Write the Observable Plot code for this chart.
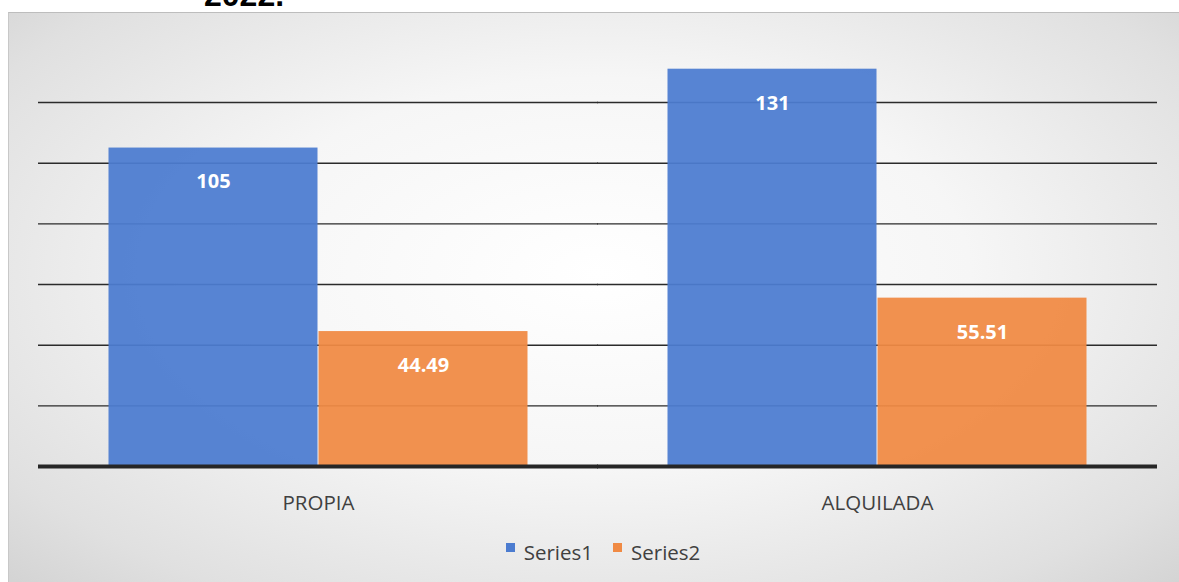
<!DOCTYPE html>
<html>
<head>
<meta charset="utf-8">
<script src="https://cdn.jsdelivr.net/npm/d3@7"></script>
<script src="https://cdn.jsdelivr.net/npm/@observablehq/plot@0.6"></script>
<style>
  html, body { margin: 0; padding: 0; background: #ffffff; overflow: hidden; }
  #page { position: relative; width: 1179px; height: 582px; overflow: hidden; font-family: "Open Sans", "Noto Sans", sans-serif; }
  #title { position: absolute; left: 204px; top: -23px; font: bold 32px "Liberation Sans", Arial, sans-serif; color: #000; }
  #panel { position: absolute; left: 8px; top: 12px; right: -10px; bottom: -10px;
           border-top: 1px solid #bdbdbd; border-left: 1px solid #c8c8c8;
           background: radial-gradient(ellipse 70% 75% at 50% 45%, #ffffff 0%, #f6f6f6 45%, #e0e0e0 85%, #d4d4d4 100%); }
  #chart { position: absolute; left: 0; top: 0; }
  #legend { position: absolute; left: 0; width: 1179px; top: 538px; display: flex; justify-content: center; gap: 20px; font-size: 20.5px; color: #404040; padding-left: 27px; box-sizing: border-box; }
  #legend span.item { display: flex; align-items: center; gap: 9px; }
  #legend span.sw { width: 9px; height: 9px; display: inline-block; margin-top: -9px; }
</style>
</head>
<body>
<div id="page">
  <div id="title">2022.</div>
  <div id="panel"></div>
  <div id="chart"></div>
  <div id="legend"></div>
</div>
<script>
const categories = ["PROPIA", "ALQUILADA"];
const seriesNames = ["Series1", "Series2"];
const series1 = [105, 131];
const series2 = [44.49, 55.51];
const labels1 = ["105", "131"];
const labels2 = ["44.49", "55.51"];
const gridTicks = [20, 40, 60, 80, 100, 120];
const colors = ["#4c7cd0", "#f08a44"];

const data = [];
categories.forEach((c, i) => {
  data.push({category: c, series: seriesNames[0], value: series1[i], label: labels1[i]});
  data.push({category: c, series: seriesNames[1], value: series2[i], label: labels2[i]});
});

const plot = Plot.plot({
  width: 1179,
  height: 520,
  marginLeft: 38,
  marginRight: 21,
  marginTop: 41.4,
  marginBottom: 54,
  style: {background: "transparent", fontFamily: "'Open Sans', 'Noto Sans', sans-serif", fontSize: "20.5px", color: "#404040"},
  fx: {domain: categories, paddingInner: 0.248, paddingOuter: 0.125, axis: "bottom", label: null, tickSize: 0, tickPadding: 29},
  x: {domain: seriesNames, padding: 0, axis: null},
  y: {domain: [0, 140], axis: null},
  color: {domain: seriesNames, range: colors},
  marks: [
    Plot.ruleY(gridTicks, {stroke: "#2b2b2b", strokeWidth: 1.4, insetLeft: -70, insetRight: -70}),
    Plot.barY(data, {fx: "category", x: "series", y: "value", fill: "series", fillOpacity: 0.94, insetLeft: 0.5, insetRight: 0.5}),
    Plot.text(data, {fx: "category", x: "series", y: "value", text: "label", dy: 34, fill: "white", fontWeight: "bold", fontSize: 20}),
    Plot.ruleY([0], {stroke: "#262626", strokeWidth: 4, insetLeft: -70, insetRight: -70})
  ]
});
document.getElementById("chart").appendChild(plot);

const legend = document.getElementById("legend");
seriesNames.forEach((s, i) => {
  const item = document.createElement("span");
  item.className = "item";
  const sw = document.createElement("span");
  sw.className = "sw";
  sw.style.background = colors[i];
  const t = document.createElement("span");
  t.textContent = s;
  item.appendChild(sw);
  item.appendChild(t);
  legend.appendChild(item);
});
</script>
</body>
</html>
